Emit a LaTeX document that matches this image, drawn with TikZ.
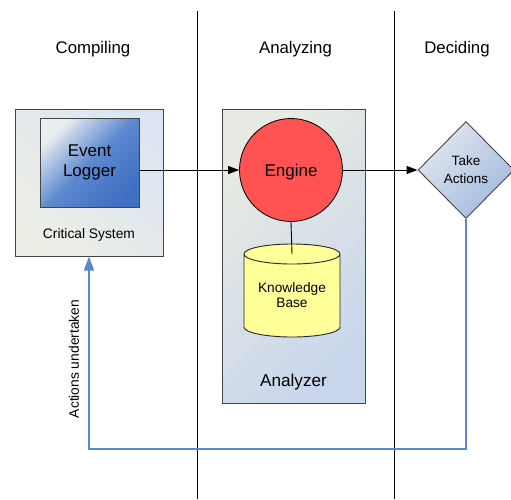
\documentclass[tikz,border=0pt]{standalone}
\usepackage{fontspec}
\setmainfont{Liberation Sans}
\usetikzlibrary{shapes.geometric,arrows.meta,calc}

\definecolor{lanebg1}{HTML}{ECEEE6}
\definecolor{lanebg2}{HTML}{DDE5F2}
\definecolor{anbg1}{HTML}{E8EBE3}
\definecolor{anbg2}{HTML}{C9D6EC}
\definecolor{loggerlight}{HTML}{E9EFF0}
\definecolor{loggermid}{HTML}{5E89CF}
\definecolor{loggerdark}{HTML}{4070C4}
\definecolor{enginered}{HTML}{FF5252}
\definecolor{kbyellow}{HTML}{FFFF99}
\definecolor{diamlight}{HTML}{E2E7EE}
\definecolor{diamdark}{HTML}{A2BAE0}
\definecolor{feedback}{HTML}{5B87CC}
\definecolor{frame}{HTML}{454545}

\tikzset{
  header/.style={font=\fontsize{16.8}{20}\selectfont, anchor=base},
  lane/.style={line width=1pt, black},
  flow/.style={line width=0.9pt, black, -{Triangle[length=11pt,width=8pt]}},
  back/.style={line width=1.6pt, feedback, -{Triangle[length=14pt,width=10pt]}},
}

\begin{document}
\begin{tikzpicture}[x=1pt, y=-1pt]
\useasboundingbox (0,0) rectangle (511,499);

% swimlane separators
\draw[lane] (197,11) -- (197,499);
\draw[lane] (394,11) -- (394,499);

% lane titles
\node[header] (hcomp) at (93,53) {Compiling};
\node[header] (hana)  at (295.5,53) {Analyzing};
\node[header] (hdec)  at (457,53) {Deciding};

% Compiling lane: critical system with its event logger
\node[draw=frame, line width=1pt, shading=axis, top color=lanebg2,
      bottom color=lanebg1, shading angle=-45,
      minimum width=148pt, minimum height=147pt] (cs) at (89,182.5) {};
\node[anchor=base, font=\fontsize{13.8}{16}\selectfont] (cslabel) at (89,238) {Critical System};
\node[draw=frame, line width=1pt, shading=axis, top color=loggerlight,
      bottom color=loggerdark, middle color=loggermid, shading angle=45,
      minimum width=99pt, minimum height=89pt, align=center,
      font=\fontsize{17}{20}\selectfont] (logger) at (89.5,162.5) {Event\\Logger};

% Analyzing lane: analyzer with engine and knowledge base
\node[draw=frame, line width=1pt, shading=axis, top color=anbg1,
      bottom color=anbg2, shading angle=45,
      minimum width=143pt, minimum height=294pt] (an) at (293.5,256) {};
\node[anchor=base, font=\fontsize{17.2}{20}\selectfont] (anlabel) at (293.5,386) {Analyzer};
\node[circle, draw=black, line width=0.8pt, fill=enginered, minimum size=103pt,
      inner sep=0pt, text depth=0pt, font=\fontsize{17}{20}\selectfont] (eng) at (291,170) {Engine};

% knowledge base: cylinder drawn around the text node
\fill[kbyellow] (292-48,254) -- (292-48,327)
  arc[start angle=180, end angle=0, x radius=48, y radius=10]
  -- (292+48,254)
  arc[start angle=360, end angle=180, x radius=48, y radius=10] -- cycle;
\draw[line width=0.9pt, black!85] (292-48,254) -- (292-48,327)
  arc[start angle=180, end angle=0, x radius=48, y radius=10]
  -- (292+48,254)
  arc[start angle=360, end angle=180, x radius=48, y radius=10]
  arc[start angle=180, end angle=0, x radius=48, y radius=10];
\node[minimum width=96pt, minimum height=82pt, inner sep=0pt, align=center,
      font=\fontsize{13.7}{15}\selectfont] (kb) at (292,295) {Knowledge\\Base};

% Deciding lane
\node[diamond, aspect=1, draw=frame, line width=0.9pt, shading=axis,
      top color=diamlight, bottom color=diamdark, shading angle=45,
      minimum width=96pt, minimum height=97pt, inner sep=0pt, align=center,
      font=\fontsize{13.5}{18}\selectfont] (dec) at (466,170) {Take\\Actions};

% data flow
\draw[flow] (logger.east |- eng.west) -- (eng.west);
\draw[flow] (eng.east) -- (dec.west);
\draw[line width=0.9pt, black] (eng.south) -- (kb.north);

% feedback loop
\coordinate (loop) at (0,449);
\draw[back] (dec.south) -- (dec.south |- loop) -- (cs.south |- loop) -- (cs.south);
\node[rotate=90, font=\fontsize{13.8}{16}\selectfont] (fblabel) at (74,359) {Actions undertaken};
\end{tikzpicture}
\end{document}
